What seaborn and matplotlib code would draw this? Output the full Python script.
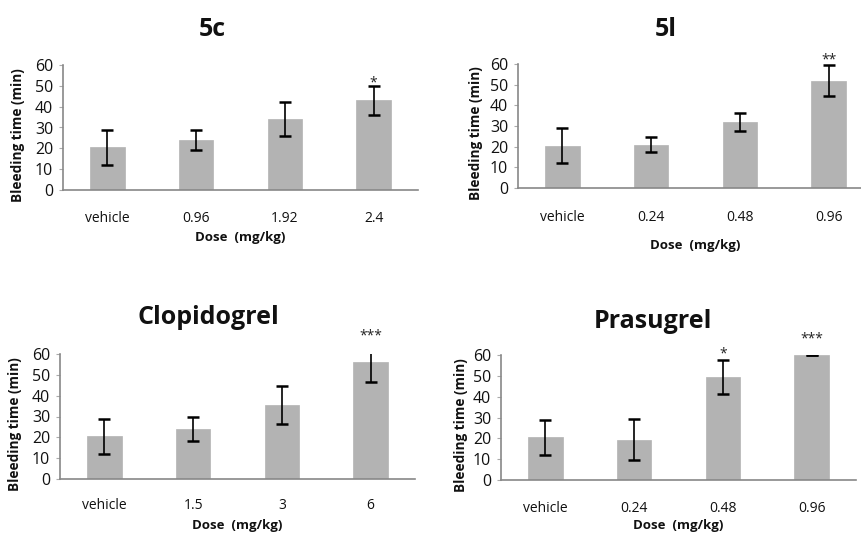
import numpy as np
import pandas as pd
import matplotlib
matplotlib.use("Agg")
import matplotlib.pyplot as plt
import seaborn as sns

# ──────────────────────────────────────────────
# Data
# ──────────────────────────────────────────────

titles = ["5c", "5l", "Clopidogrel", "Prasugrel"]

doses_5c = ["vehicle", "0.96", "1.92", "2.4"]
mean_5c = [20.5, 24.0, 34.0, 43.0]
err_5c = [8.5, 5.0, 8.0, 7.0]
sig_5c = ["", "", "", "*"]

doses_5l = ["vehicle", "0.24", "0.48", "0.96"]
mean_5l = [20.5, 21.0, 32.0, 52.0]
err_5l = [8.5, 3.5, 4.2, 7.3]
sig_5l = ["", "", "", "**"]

doses_clop = ["vehicle", "1.5", "3", "6"]
mean_clop = [20.5, 24.0, 35.5, 56.0]
err_clop = [8.5, 5.8, 9.2, 9.5]
sig_clop = ["", "", "", "***"]

doses_pras = ["vehicle", "0.24", "0.48", "0.96"]
mean_pras = [20.5, 19.3, 49.3, 60.0]
err_pras = [8.5, 9.8, 8.2, 0.0]
sig_pras = ["", "", "*", "***"]

# ──────────────────────────────────────────────
# Layout (pixel boxes of each axes: left, top, right, bottom)
# ──────────────────────────────────────────────

W, H = 862, 536
panels = [
    dict(box=(63, 65, 418, 190), title_xy=(212, 30), tick_pad=23, xlab=48,
         ylab_x=18, data=(doses_5c, mean_5c, err_5c, sig_5c),
         sig_off=[0, 0, 0, 1.2]),
    dict(box=(518, 64, 873, 188), title_xy=(666, 30), tick_pad=24, xlab=57,
         ylab_x=476, data=(doses_5l, mean_5l, err_5l, sig_5l),
         sig_off=[0, 0, 0, 2.6]),
    dict(box=(60, 354, 415, 479), title_xy=(208, 318), tick_pad=22, xlab=47,
         ylab_x=15, data=(doses_clop, mean_clop, err_clop, sig_clop),
         sig_off=[0, 0, 0, 3.2]),
    dict(box=(501, 355, 856, 480), title_xy=(653, 321), tick_pad=23, xlab=46,
         ylab_x=461, data=(doses_pras, mean_pras, err_pras, sig_pras),
         sig_off=[0, 0, 3.0, 7.6]),
]

sns.set_theme(style="white")
plt.rcParams["font.family"] = ["Open Sans", "DejaVu Sans"]

fig = plt.figure(figsize=(W / 100, H / 100), dpi=100)
fig.patch.set_facecolor("white")

for title, p in zip(titles, panels):
    l, t, r, b = p["box"]
    ax = fig.add_axes([l / W, (H - b) / H, (r - l) / W, (b - t) / H])
    doses, means, errs, sigs = p["data"]
    df = pd.DataFrame({"dose": doses, "time": means, "err": errs})

    sns.barplot(data=df, x="dose", y="time", color="#b3b3b3", saturation=1,
                width=0.39, errorbar=None, ax=ax, edgecolor="#b3b3b3",
                linewidth=0.5)
    ax.errorbar(np.arange(len(doses)), df["time"], yerr=df["err"], fmt="none",
                ecolor="black", elinewidth=1.2, capsize=4.5, capthick=1.8)

    # significance stars (centre of glyph placed above the error bar)
    for i, (m, e, s, off) in enumerate(zip(means, errs, sigs, p["sig_off"])):
        if s:
            ax.text(i, m + e + off, s, ha="center", va="center",
                    fontsize=10, color="#222222", clip_on=False)

    ax.set_ylim(0, 60)
    ax.set_xlim(-0.5, len(doses) - 0.5)
    ax.set_yticks(range(0, 61, 10))
    ax.tick_params(axis="y", length=3, width=0.8, color="#aaaaaa", pad=4,
                   labelsize=11.5, labelcolor="#111111", left=True)
    ax.tick_params(axis="x", length=0, pad=p["tick_pad"] - 8, labelsize=10,
                   labelcolor="#111111")

    sns.despine(ax=ax)
    for side in ["left", "bottom"]:
        ax.spines[side].set_color("#888888")
        ax.spines[side].set_linewidth(1.2)

    ax.set_xlabel("Dose  (mg/kg)", fontsize=9.5, fontweight="bold", color="#111111")
    ax.xaxis.set_label_coords(0.5, -p["xlab"] / (b - t))
    ax.xaxis.label.set_va("center")

    ax.set_ylabel("Bleeding time (min)", fontsize=9.8, fontweight="bold",
                  color="#111111")
    ax.yaxis.set_label_coords((p["ylab_x"] - l) / (r - l), 0.44)
    ax.yaxis.label.set_va("center")

    fig.text(p["title_xy"][0] / W, 1 - p["title_xy"][1] / H, title,
             ha="center", va="center", fontsize=18, fontweight="bold",
             color="#111111")

fig.savefig("out.png", dpi=100, facecolor="white")
